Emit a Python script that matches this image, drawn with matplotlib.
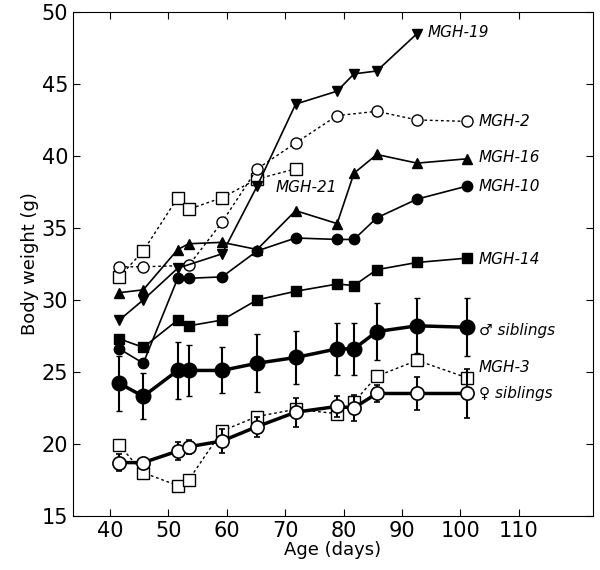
import matplotlib
matplotlib.use("Agg")
import matplotlib.pyplot as plt

ages = [41.6, 45.7, 51.6, 53.5, 59.2, 65.2, 71.8, 78.9, 81.8, 85.7, 92.6, 101.1]

mgh19_ages = [41.6, 45.7, 51.6, 59.2, 65.2, 71.8, 78.9, 81.8, 85.7, 92.6]
mgh19 = [28.6, 30.0, 32.2, 33.2, 37.9, 43.6, 44.5, 45.7, 45.9, 48.5]

mgh2_ages = [41.6, 45.7, 53.5, 59.2, 65.2, 71.8, 78.9, 85.7, 92.6, 101.1]
mgh2 = [32.3, 32.3, 32.4, 35.4, 39.1, 40.9, 42.8, 43.1, 42.5, 42.4]

mgh21_ages = [41.6, 45.7, 51.6, 53.5, 59.2, 65.2, 71.8]
mgh21 = [31.6, 33.4, 37.1, 36.3, 37.1, 38.4, 39.1]

mgh16 = [30.5, 30.7, 33.5, 33.9, 34.0, 33.5, 36.2, 35.3, 38.8, 40.1, 39.5, 39.8]
mgh10 = [26.6, 25.6, 31.5, 31.5, 31.6, 33.4, 34.3, 34.2, 34.2, 35.7, 37.0, 37.9]
mgh14 = [27.3, 26.7, 28.6, 28.2, 28.6, 30.0, 30.6, 31.1, 31.0, 32.1, 32.6, 32.9]
mgh3 = [19.9, 18.0, 17.1, 17.5, 20.9, 21.9, 22.4, 22.1, 22.9, 24.7, 25.8, 24.6]

male = [24.2, 23.3, 25.1, 25.1, 25.1, 25.6, 26.0, 26.6, 26.6, 27.8, 28.2, 28.1]
male_err = [1.9, 1.6, 1.95, 1.75, 1.6, 2.0, 1.85, 1.8, 1.8, 2.0, 1.9, 2.0]
female = [18.7, 18.7, 19.5, 19.8, 20.2, 21.2, 22.2, 22.6, 22.5, 23.5, 23.5, 23.5]
female_err = [0.6, 0.3, 0.6, 0.5, 0.85, 0.7, 1.0, 0.7, 0.9, 0.6, 1.15, 1.7]

labels = ["MGH-19", "MGH-2", "MGH-16", "MGH-10", "MGH-14",
          "\u2642 siblings", "MGH-3", "\u2640 siblings", "MGH-21"]
label_x = [94.4, 103.2, 103.2, 103.2, 103.2, 103.2, 103.2, 103.2, 68.4]
label_y = [48.6, 42.4, 39.9, 37.9, 32.8, 27.9, 25.3, 23.5, 37.8]

fig = plt.figure(figsize=(6, 5.7), dpi=100)
ax = fig.add_axes([0.122, 0.095, 0.866, 0.884])

k = "black"
dot = (0, (2, 2))

ax.plot(mgh21_ages, mgh21, color=k, lw=1, ls=dot, marker="s", ms=8,
        mfc="white", mec=k, mew=1)
ax.plot(mgh2_ages, mgh2, color=k, lw=1, ls=dot, marker="o", ms=8,
        mfc="white", mec=k, mew=1)
ax.plot(mgh19_ages, mgh19, color=k, lw=1.2, marker="v", ms=7)
ax.plot(ages, mgh16, color=k, lw=1.2, marker="^", ms=7)
ax.plot(ages, mgh10, color=k, lw=1.2, marker="o", ms=7.5)
ax.plot(ages, mgh14, color=k, lw=1.2, marker="s", ms=7)

ax.errorbar(ages, male, yerr=male_err, color=k, lw=2.5, marker="o", ms=10.5,
            elinewidth=1.5, capsize=2)
ax.plot(ages, mgh3, color=k, lw=1, ls=dot, marker="s", ms=8,
        mfc="white", mec=k, mew=1)
ax.errorbar(ages, female, yerr=female_err, color=k, lw=2.5, marker="o", ms=9.5,
            mfc="white", mec=k, mew=1.2, elinewidth=1.5, capsize=2)
ax.plot(ages, female, ls="none", marker="o", ms=2, color=k)

for lab, x, y in zip(labels, label_x, label_y):
    ax.text(x, y, lab, fontsize=11, style="italic", va="center", ha="left")

ax.set_xlim(33.7, 122.7)
ax.set_ylim(15, 50)
ax.set_xticks([40, 50, 60, 70, 80, 90, 100, 110])
ax.set_yticks([15, 20, 25, 30, 35, 40, 45, 50])
ax.tick_params(direction="in", top=True, right=True, labelsize=15, length=5)
ax.set_xlabel("Age (days)", fontsize=13, labelpad=0)
ax.set_ylabel("Body weight (g)", fontsize=13, labelpad=2)

fig.savefig("out.png", dpi=100)
